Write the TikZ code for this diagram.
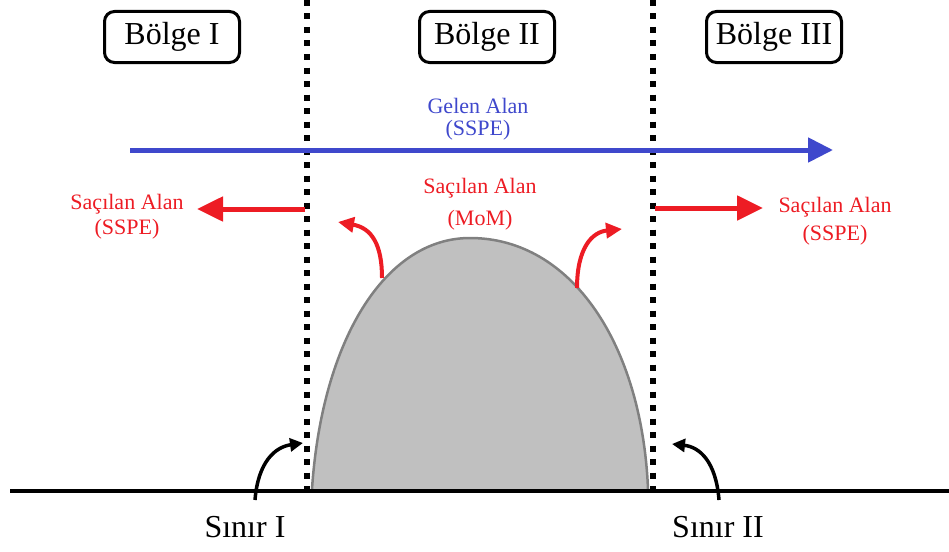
\documentclass[tikz,border=0pt]{standalone}
\usepackage{fontspec}
\setmainfont{Liberation Serif}
\usetikzlibrary{arrows.meta}
\definecolor{myred}{RGB}{237,28,36}
\definecolor{myblue}{RGB}{63,72,204}
\definecolor{bumpfill}{RGB}{192,192,192}
\definecolor{bumpline}{RGB}{128,128,128}
\begin{document}
\begin{tikzpicture}[x=1pt,y=-1pt,
  regionbox/.style={draw, line width=3pt, rounded corners=10pt, minimum width=135pt, minimum height=51pt, inner sep=0pt, font=\fontsize{32}{36}\selectfont},
  bigtext/.style={font=\fontsize{32}{36}\selectfont, inner sep=0pt},
  smalltext/.style={font=\fontsize{22}{24}\selectfont, align=center, inner sep=0pt},
  dotline/.style={line width=6pt, dash pattern=on 6pt off 7.5pt},
  redstraight/.style={myred, line width=5pt, -{Triangle[length=26pt,width=24pt]}},
  bluestraight/.style={myblue, line width=5pt, -{Triangle[length=25pt,width=24pt]}},
  redcurve/.style={myred, line width=4pt, -{Triangle[length=16pt,width=15pt]}},
  blackcurve/.style={black, line width=3.5pt, -{Triangle[length=13pt,width=13pt]}}
]
\useasboundingbox (0,0) rectangle (949,551);

% bump
\fill[bumpfill] (312,489) .. controls (322,340) and (385,238) .. (470,238) .. controls (572,238) and (642,345) .. (648,489) -- cycle;
\draw[bumpline, line width=2.5pt] (312,489) .. controls (322,340) and (385,238) .. (470,238) .. controls (572,238) and (642,345) .. (648,489);

% ground
\coordinate (g1) at (10,491);
\coordinate (g2) at (949,491);
\draw[line width=4.5pt] (g1) -- (g2);

% boundaries
\coordinate (b1t) at (307,0);
\coordinate (b1b) at (307,489);
\coordinate (b2t) at (653,0);
\coordinate (b2b) at (653,489);
\draw[dotline] (b1t) -- (b1b);
\draw[dotline] (b2t) -- (b2b);

% region labels
\node[regionbox] (r1) at (172,37) {Bölge I};
\node[regionbox] (r2) at (487,37) {Bölge II};
\node[regionbox] (r3) at (774,37) {Bölge III};

% incident field
\coordinate (inc1) at (130,150);
\coordinate (inc2) at (833,150);
\draw[bluestraight] (inc1) -- (inc2);
\node[smalltext, text=myblue] (gelen) at (478,119) {Gelen Alan\\[-2pt](SSPE)};

% scattered fields
\coordinate (sl1) at (305,209);
\coordinate (sl2) at (197,209);
\draw[redstraight] (sl1) -- (sl2);
\coordinate (sr1) at (655,208);
\coordinate (sr2) at (763,208);
\draw[redstraight] (sr1) -- (sr2);
\node[smalltext, text=myred] (scl) at (127,217) {Saçılan Alan\\[1pt](SSPE)};
\node[smalltext, text=myred] (scr) at (835,221) {Saçılan Alan\\[4pt](SSPE)};
\node[smalltext, text=myred] (scm) at (480,204) {Saçılan Alan\\[8pt](MoM)};

\coordinate (cl1) at (382,278);
\coordinate (cl2) at (338,222);
\draw[redcurve] (cl1) .. controls (382,245) and (372,228) .. (cl2);
\coordinate (cr1) at (577,288);
\coordinate (cr2) at (622,229);
\draw[redcurve] (cr1) .. controls (577,248) and (592,232) .. (cr2);

% boundary labels
\node[bigtext] (s1) at (245,527) {Sınır I};
\node[bigtext] (s2) at (718,527) {Sınır II};
\coordinate (a1) at (255,500);
\coordinate (a1t) at (303,443);
\draw[blackcurve] (a1) .. controls (258,462) and (275,447) .. (a1t);
\coordinate (a2) at (719,500);
\coordinate (a2t) at (672,444);
\draw[blackcurve] (a2) .. controls (716,462) and (700,447) .. (a2t);
\end{tikzpicture}
\end{document}
